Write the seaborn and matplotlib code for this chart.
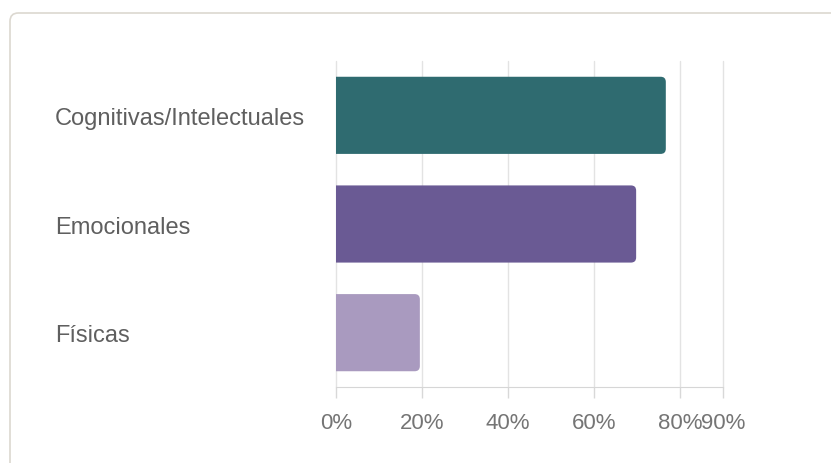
import numpy as np
import matplotlib.pyplot as plt
import seaborn as sns
import pandas as pd
from matplotlib.patches import FancyBboxPatch

# data
categories = ['Cognitivas/Intelectuales', 'Emocionales', 'Físicas']
percentages = [76.7, 69.8, 19.5]
colors = ['#2f6b70', '#6a5a94', '#a99abf']
xticks = [0, 20, 40, 60, 80, 90]

W, H = 831, 464

sns.set_style('white')
plt.rcParams['font.family'] = ['Liberation Sans', 'DejaVu Sans']

df = pd.DataFrame({'cat': categories, 'pct': percentages})

fig = plt.figure(figsize=(W / 100, H / 100), dpi=100)
ax = fig.add_axes([336 / W, 1 - 388 / H, (723 - 336) / W, (388 - 62) / H])

# card border
card = FancyBboxPatch((10 / W, -0.1), 1.2, 0.1 + 1 - 14 / H,
                      boxstyle='round,pad=0,rounding_size=0.01',
                      mutation_aspect=W / H, transform=fig.transFigure,
                      facecolor='white', edgecolor='#dcd8d0', linewidth=1.2,
                      zorder=-10)
fig.patches.append(card)

sns.barplot(data=df, x='pct', y='cat', hue='cat', palette=colors,
            saturation=1, width=0.71, legend=False, ax=ax, zorder=3)

ax.set_xlim(0, 90)
ax.set_ylim(2.5, -0.5)

# swap plain bars for ones with rounded ends
aspect = (1 / 108.5) / (1 / 4.3)
for p in list(ax.patches):
    x0, y0 = p.get_x(), p.get_y()
    w, h = p.get_width(), p.get_height()
    fc = p.get_facecolor()
    p.set_visible(False)
    rp = FancyBboxPatch((x0 - 3, y0), w + 3, h,
                        boxstyle='round,pad=0,rounding_size=1.2',
                        mutation_aspect=aspect, facecolor=fc,
                        edgecolor='none', zorder=3)
    ax.add_patch(rp)
    rp.set_clip_path(ax.patch)

ax.set_xticks(xticks)
ax.set_xticklabels([f'{t}%' for t in xticks])
ax.grid(axis='x', color='#e3e3e3', linewidth=1, zorder=0)
for gl in ax.get_xgridlines():
    gl.set_clip_on(False)
ax.set_axisbelow(True)

for s in ['top', 'right', 'left']:
    ax.spines[s].set_visible(False)
ax.spines['bottom'].set_color('#d6d6d6')

ax.tick_params(axis='x', length=8, width=1, color='#d8d8d8', pad=10,
               labelsize=16, labelcolor='#757575', bottom=True,
               direction='out')
ax.tick_params(axis='y', length=0, pad=281 * 0.72, labelsize=17,
               labelcolor='#5f5f5f')
for lab in ax.get_yticklabels():
    lab.set_ha('left')

ax.set_xlabel('')
ax.set_ylabel('')

fig.savefig('out.png', dpi=100)
